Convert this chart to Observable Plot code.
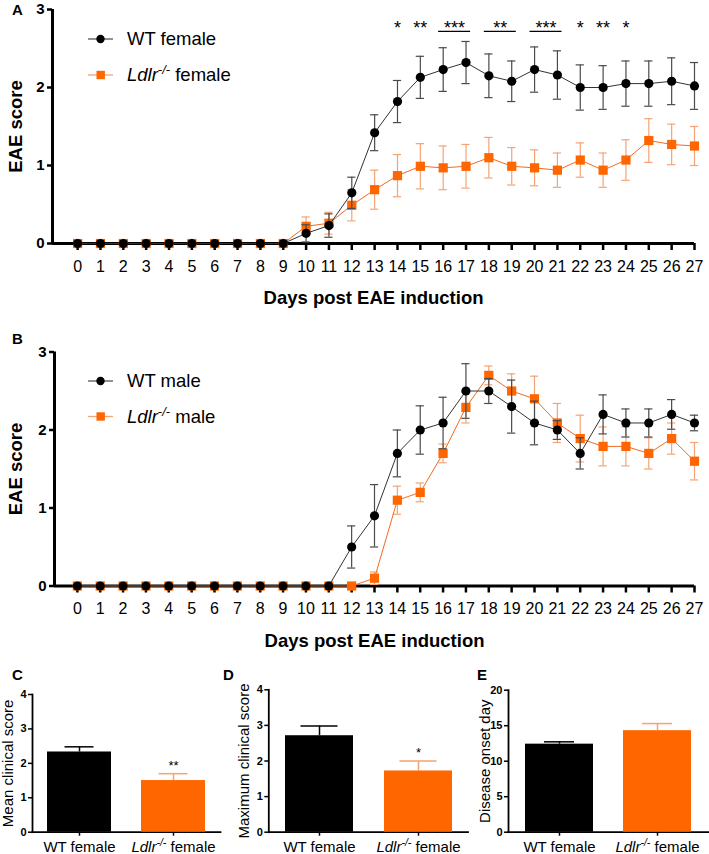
<!DOCTYPE html>
<html><head><meta charset="utf-8">
<script src="https://cdn.jsdelivr.net/npm/d3@7"></script>
<script src="https://cdn.jsdelivr.net/npm/@observablehq/plot@0.6"></script>
<style>
body{margin:0;background:#fff;}
#fig{position:relative;width:709px;height:854px;font-family:"Liberation Sans",Arial,sans-serif;overflow:hidden;}
#fig > div, #fig > svg{position:absolute;}
#fig svg{overflow:visible;}
</style></head><body><div id="fig"></div>
<script>
// ---------- data ----------
const days = [0,1,2,3,4,5,6,7,8,9,10,11,12,13,14,15,16,17,18,19,20,21,22,23,24,25,26,27];
const wtFemaleScore = [0,0,0,0,0,0,0,0,0,0,0.13,0.23,0.65,1.42,1.82,2.13,2.23,2.32,2.15,2.08,2.23,2.16,2.00,2.00,2.05,2.05,2.08,2.02];
const wtFemaleSem   = [0,0,0,0,0,0,0,0,0,0,0.11,0.15,0.20,0.23,0.27,0.27,0.28,0.27,0.28,0.26,0.29,0.31,0.29,0.28,0.29,0.29,0.30,0.30];
const koFemaleScore = [0,0,0,0,0,0,0,0,0,0,0.22,0.26,0.49,0.69,0.87,0.99,0.97,0.99,1.10,0.99,0.97,0.94,1.07,0.94,1.07,1.32,1.27,1.25];
const koFemaleSem   = [0,0,0,0,0,0,0,0,0,0,0.12,0.14,0.20,0.25,0.27,0.29,0.28,0.28,0.26,0.24,0.23,0.22,0.22,0.22,0.26,0.28,0.26,0.25];
const wtMaleScore   = [0,0,0,0,0,0,0,0,0,0,0,0,0.50,0.90,1.70,2.00,2.09,2.50,2.50,2.30,2.09,2.00,1.70,2.20,2.09,2.09,2.20,2.09];
const wtMaleSem     = [0,0,0,0,0,0,0,0,0,0,0,0,0.27,0.40,0.30,0.31,0.33,0.35,0.16,0.34,0.28,0.12,0.20,0.25,0.18,0.18,0.19,0.10];
const koMaleScore   = [0,0,0,0,0,0,0,0,0,0,0,0,0,0.10,1.10,1.20,1.70,2.29,2.70,2.50,2.40,2.09,1.89,1.79,1.79,1.70,1.89,1.60];
const koMaleSem     = [0,0,0,0,0,0,0,0,0,0,0,0,0,0.08,0.18,0.12,0.12,0.20,0.12,0.22,0.29,0.25,0.30,0.25,0.25,0.20,0.20,0.24];
const curveYTicks = [0,1,2,3];

// significance markers in panel A (day or day span, label)
const sigDay   = [14, 15, 16.5, 18.5, 20.5, 22, 23, 24];
const sigLabel = ["*", "**", "***", "**", "***", "*", "**", "*"];
const sigFrom  = [null, null, 16, 18, 20, null, null, null];
const sigTo    = [null, null, 17, 19, 21, null, null, null];

const groups = ["WT female", "Ldlr-/- female"];
const meanScore = [2.33, 1.50], meanSem = [0.15, 0.20], meanSig = ["", "**"];
const maxScore  = [2.71, 1.72], maxSem  = [0.27, 0.28], maxSig  = ["", "*"];
const onsetDay  = [12.4, 14.3], onsetSem = [0.33, 1.00], onsetSig = ["", ""];
const scoreTicks = [0,1,2,3,4];
const onsetTicks = [0,5,10,15,20];

const legendA = ["WT female", "Ldlr-/- female"];
const legendB = ["WT male", "Ldlr-/- male"];

// ---------- style ----------
const FONT = "Liberation Sans, Arial, sans-serif";
const ORANGE = "#ff6600";
const ORANGE_ERR = "#f5a374";
const ORANGE_LINE = "#f26a21";
const GREY_ERR = "#4a4a4a";
const fig = d3.select("#fig");

function italicize(svg) {
  d3.select(svg).selectAll("text").each(function() {
    const t = this.textContent;
    const m = /^Ldlr-\/-( .*)$/.exec(t);
    if (!m) return;
    const sel = d3.select(this);
    sel.text(null);
    sel.append("tspan").attr("font-style", "italic").text("Ldlr");
    sel.append("tspan").attr("font-style", "italic").attr("font-size", "70%").attr("baseline-shift", "super").text("-/-");
    sel.append("tspan").text(m[1]);
  });
}

function place(node, left, top) {
  const div = fig.append("div").style("left", left + "px").style("top", top + "px");
  div.node().appendChild(node);
  italicize(node);
}

function curvePanel(o) {
  const wt = days.map((d, i) => ({day: d, v: o.wt[i], e: o.wtErr[i]}));
  const ko = days.map((d, i) => ({day: d, v: o.ko[i], e: o.koErr[i]}));
  const CAP = 0.18;
  const err = (data, color) => {
    const f = data.filter(d => d.e > 0);
    return [
      Plot.ruleX(f, {x: "day", y1: d => Math.max(0, d.v - d.e), y2: d => d.v + d.e, stroke: color, strokeWidth: 1.2}),
      Plot.ruleY(f, {x1: d => d.day - CAP, x2: d => d.day + CAP, y: d => d.v + d.e, stroke: color, strokeWidth: 1.2}),
      Plot.ruleY(f.filter(d => d.v - d.e > 0.02), {x1: d => d.day - CAP, x2: d => d.day + CAP, y: d => d.v - d.e, stroke: color, strokeWidth: 1.2})
    ];
  };
  const marks = [
    Plot.axisX(days, {tickSize: 7, tickPadding: 10, fontSize: 16, strokeWidth: 2.5, tickFormat: d => `${d}`, label: null}),
    Plot.axisY(curveYTicks, {tickSize: 5, tickPadding: 3, fontSize: 15, fontWeight: "bold", strokeWidth: 2.5, tickFormat: d => `${d}`, label: null}),
    Plot.ruleX([o.xMin], {strokeWidth: 3}),
    Plot.ruleY([0], {strokeWidth: 3}),
    ...err(ko, ORANGE_ERR),
    Plot.line(ko, {x: "day", y: "v", stroke: ORANGE_LINE, strokeWidth: 1}),
    Plot.dot(ko, {x: "day", y: "v", symbol: "square", fill: ORANGE, r: 5.2}),
    ...err(wt, GREY_ERR),
    Plot.line(wt, {x: "day", y: "v", stroke: "#333", strokeWidth: 1}),
    Plot.dot(wt, {x: "day", y: "v", fill: "black", r: 4.6}),
    Plot.text(["Days post EAE induction"], {text: d => d, frameAnchor: "bottom", lineAnchor: "middle", dy: 55, fontSize: 18.5, fontWeight: "bold"}),
    Plot.text(["EAE score"], {text: d => d, frameAnchor: "left", textAnchor: "middle", lineAnchor: "middle", rotate: -90, dx: o.labelDx, fontSize: 18.5, fontWeight: "bold"})
  ];
  if (o.sig) {
    const sig = sigDay.map((d, i) => ({day: d, label: sigLabel[i], from: sigFrom[i], to: sigTo[i]}));
    marks.push(Plot.text(sig, {x: "day", text: "label", frameAnchor: "top", lineAnchor: "middle", dy: 19, fontSize: 18}));
    marks.push(Plot.ruleY(sig.filter(d => d.from != null), {x1: d => d.from - 0.2, x2: d => d.to + 0.2, y: 2.72, strokeWidth: 1.2}));
  }
  return Plot.plot({
    width: 709, height: o.height, marginTop: o.mt, marginBottom: o.mb, marginLeft: o.ml, marginRight: 15,
    x: {domain: [o.xMin, 27]}, y: {domain: [0, 3]},
    style: {fontFamily: FONT, background: "transparent", overflow: "visible", color: "black"},
    marks
  });
}

function barPanel(o) {
  const data = groups.map((g, i) => ({g, v: o.vals[i], e: o.errs[i], sig: o.sig[i], color: i === 0 ? "black" : ORANGE, ecolor: i === 0 ? "black" : ORANGE_ERR}));
  return Plot.plot({
    width: o.width, height: 199, marginTop: o.mt, marginBottom: 22.3, marginLeft: o.ml, marginRight: o.mr,
    x: {type: "band", domain: groups, paddingInner: o.pi, paddingOuter: o.po},
    y: {domain: o.yDomain},
    style: {fontFamily: FONT, background: "transparent", overflow: "visible", color: "black"},
    marks: [
      Plot.axisX({tickSize: 4, tickPadding: 5, fontSize: 15, strokeWidth: 1.5, label: null}),
      Plot.axisY(o.ticks, {tickSize: 4, tickPadding: 2, fontSize: 11, fontWeight: "bold", strokeWidth: 1.5, tickFormat: d => `${d}`, label: null}),
      Plot.frame({anchor: "left", strokeWidth: 1.8}),
      Plot.frame({anchor: "bottom", strokeWidth: 1.8}),
      Plot.ruleX(data, {x: "g", y1: "v", y2: d => d.v + d.e, stroke: "ecolor", strokeWidth: 1.5}),
      Plot.tickY(data, {x: "g", y: d => d.v + d.e, stroke: "ecolor", strokeWidth: 1.5, insetLeft: o.capInset, insetRight: o.capInset}),
      Plot.barY(data, {x: "g", y: "v", fill: "color"}),
      Plot.text(data.filter(d => d.sig), {x: "g", y: d => d.v + d.e, text: "sig", dy: -8, fontSize: 13}),
      Plot.text([o.label], {text: d => d, frameAnchor: "left", textAnchor: "middle", lineAnchor: "middle", rotate: -90, dx: o.labelDx, fontSize: 15})
    ]
  });
}

place(curvePanel({wt: wtFemaleScore, wtErr: wtFemaleSem, ko: koFemaleScore, koErr: koFemaleSem,
  height: 310, mt: 9, mb: 67, ml: 52, xMin: -1.1, sig: true, labelDx: -36}), 0, 0);
place(curvePanel({wt: wtMaleScore, wtErr: wtMaleSem, ko: koMaleScore, koErr: koMaleSem,
  height: 330, mt: 21.5, mb: 74.5, ml: 54, xMin: -1.0, sig: false, labelDx: -38}), 0, 330);

place(barPanel({vals: meanScore, errs: meanSem, sig: meanSig, yDomain: [0, 4], ticks: scoreTicks,
  label: "Mean clinical score", width: 235, mt: 39, ml: 32, mr: 15, pi: 0.32, po: 0.16, capInset: 17.5, labelDx: -24}), 0, 655);
place(barPanel({vals: maxScore, errs: maxSem, sig: maxSig, yDomain: [0, 4], ticks: scoreTicks,
  label: "Maximum clinical score", width: 235, mt: 34.3, ml: 33.3, mr: 2.5, pi: 0.317, po: 0.16, capInset: 15.5, labelDx: -25}), 235, 655);
place(barPanel({vals: onsetDay, errs: onsetSem, sig: onsetSig, yDomain: [0, 20], ticks: onsetTicks,
  label: "Disease onset day", width: 244, mt: 34.7, ml: 43, mr: 0.5, pi: 0.31, po: 0.17, capInset: 19, labelDx: -23}), 465, 655);

// ---------- overlay: legends and panel letters ----------
const ov = fig.append("svg").attr("width", 709).attr("height", 854).style("left", "0px").style("top", "0px")
  .style("pointer-events", "none").attr("font-family", FONT);

function legend(entries, y0, gap) {
  entries.forEach((name, i) => {
    const y = y0 + i * gap;
    const g = ov.append("g");
    g.append("line").attr("x1", 88).attr("x2", 113).attr("y1", y).attr("y2", y)
      .attr("stroke", i === 0 ? "#555" : ORANGE_ERR).attr("stroke-width", 1.3);
    if (i === 0) g.append("circle").attr("cx", 100.5).attr("cy", y).attr("r", 4.2).attr("fill", "black");
    else g.append("rect").attr("x", 96.5).attr("y", y - 4.2).attr("width", 8.4).attr("height", 8.4).attr("fill", ORANGE);
    g.append("text").attr("x", 127).attr("y", y).attr("dy", "0.35em").attr("font-size", 18.5).text(name);
    italicize(g.node());
  });
}
legend(legendA, 39, 36);
legend(legendB, 381, 35.5);

const letters = [["A", 12, 10], ["B", 12, 339], ["C", 12, 675], ["D", 223, 675], ["E", 477, 675]];
letters.forEach(([s, x, y]) => ov.append("text").attr("x", x).attr("y", y).attr("dy", "0.35em")
  .attr("font-size", 15).attr("font-weight", "bold").text(s));
</script></body></html>
